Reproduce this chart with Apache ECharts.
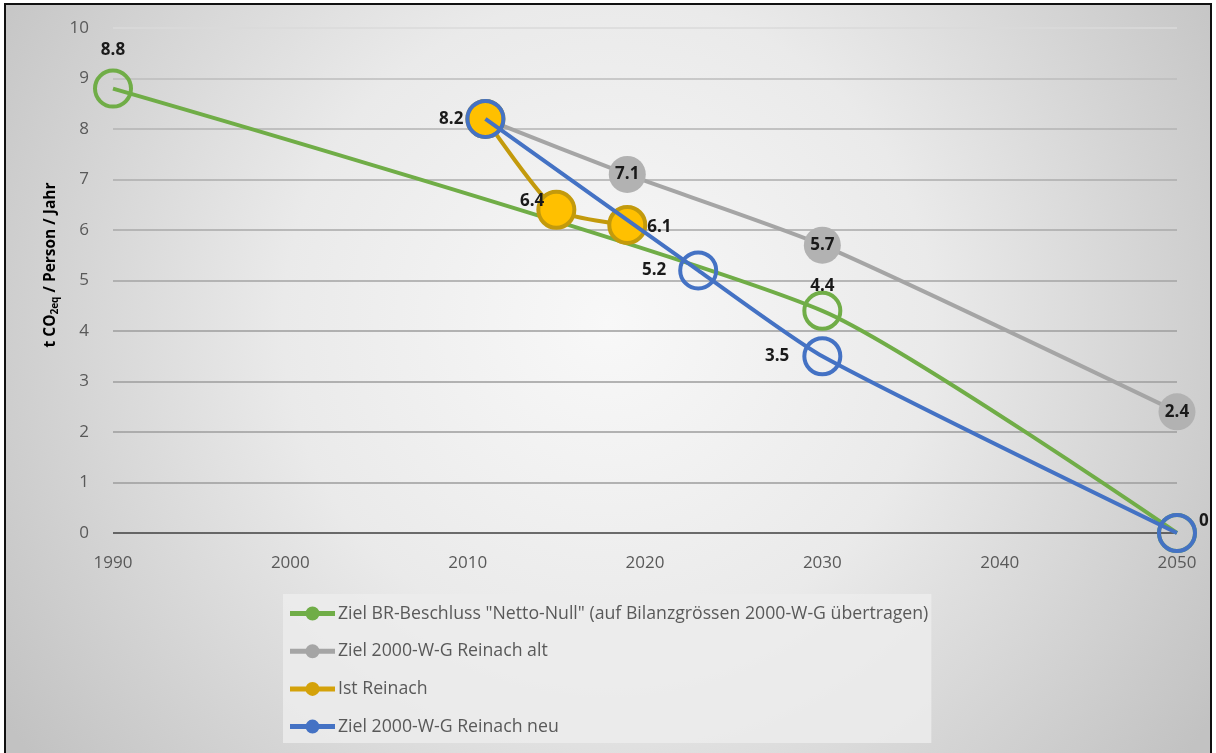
<!DOCTYPE html>
<html><head><meta charset="utf-8">
<script src="https://cdn.jsdelivr.net/npm/echarts@6/dist/echarts.min.js"></script>
<style>html,body{margin:0;padding:0;background:#fff;}#c{width:1216px;height:753px;}</style>
</head><body><div id="c"></div>
<script>
// ---- data ----
const seriesNames = ['Ziel BR-Beschluss "Netto-Null" (auf Bilanzgrössen 2000-W-G übertragen)', 'Ziel 2000-W-G Reinach alt', 'Ist Reinach', 'Ziel 2000-W-G Reinach neu'];
const greenYears = [1990, 2030, 2050];
const greenValues = [8.8, 4.4, 0];
const greyYears = [2011, 2019, 2030, 2050];
const greyValues = [8.2, 7.1, 5.7, 2.4];
const orangeYears = [2011, 2015, 2019];
const orangeValues = [8.2, 6.4, 6.1];
const blueYears = [2011, 2023, 2030, 2050];
const blueValues = [8.2, 5.2, 3.5, 0];
const xTicks = [1990, 2000, 2010, 2020, 2030, 2040, 2050];
const yTicks = [0, 1, 2, 3, 4, 5, 6, 7, 8, 9, 10];

const GREEN = '#70ad47', GREY = '#a5a5a5', GOLD = '#ffc000', GOLDLINE = '#c39a0c', BLUE = '#4472c4';
const labelFont = {fontFamily: 'Open Sans', fontWeight: 'bold', fontSize: 17, color: '#1a1a1a'};
const LEG_ICON = 'path://M0,4.5H12V9.5H0Z M33,4.5H45V9.5H33Z M15.5,7A7,7 0 1 1 29.5,7A7,7 0 1 1 15.5,7Z M12,4.5H16V9.5H12Z M29,4.5H33V9.5H29Z';

function pts(xs, ys) { return xs.map((x, i) => [x, ys[i]]); }
function withLabels(data, labels) {
  return data.map((d, i) => labels[i] ? {value: d, label: Object.assign({show: true}, labelFont, labels[i])} : {value: d});
}

const chart = echarts.init(document.getElementById('c'), null, {renderer: 'canvas'});
const option = {
  backgroundColor: '#ffffff',
  animation: false,
  graphic: [
    {type: 'rect', z: -100, silent: true, shape: {x: 5, y: 4, width: 1206, height: 760},
     style: {fill: new echarts.graphic.RadialGradient(0.5, 0.42, 0.95, [
       {offset: 0, color: '#f8f8f8'}, {offset: 0.45, color: '#eaeaea'}, {offset: 1, color: '#c2c2c2'}]), stroke: null}},
    {type: 'rect', z: 100, silent: true, shape: {x: 5, y: 4, width: 1206, height: 760},
     style: {fill: null, stroke: '#111', lineWidth: 2}},
    {type: 'text', z: 100, silent: true, x: 51, y: 265, rotation: Math.PI / 2,
     style: {text: '{n|t CO}{s|2eq}{n| / Person / Jahr}', align: 'center', verticalAlign: 'middle',
       rich: {n: {fontFamily: 'Open Sans', fontWeight: 'bold', fontSize: 15.5, color: '#404040', lineHeight: 20},
              s: {fontFamily: 'Open Sans', fontWeight: 'bold', fontSize: 10, color: '#404040', lineHeight: 20, padding: [8, 0, 0, 0]}}}}
  ],
  grid: {left: 113, right: 39, top: 28, bottom: 220},
  xAxis: {
    type: 'value', min: xTicks[0], max: xTicks[xTicks.length - 1], interval: 10,
    axisLine: {show: false}, axisTick: {show: false}, splitLine: {show: false},
    axisLabel: {fontFamily: 'Open Sans', fontSize: 17, color: '#595959', margin: 22, formatter: v => String(v)}
  },
  yAxis: {
    type: 'value', min: yTicks[0], max: yTicks[yTicks.length - 1], interval: 1,
    axisLine: {show: false}, axisTick: {show: false},
    splitLine: {lineStyle: {color: ['#3f3f3f', '#9c9c9c', '#9c9c9c', '#9c9c9c', '#9c9c9c', '#a3a3a3', '#a8a8a8', '#adadad', '#b3b3b3', '#bdbdbd', '#dadada'], width: 1.6}},
    axisLabel: {fontFamily: 'Open Sans', fontSize: 17, color: '#595959', margin: 24}
  },
  legend: {
    orient: 'vertical', left: 283, top: 594, padding: [10, 3, 7, 7],
    backgroundColor: 'rgba(236,236,236,0.85)',
    itemWidth: 45, itemHeight: 14, itemGap: 18.7,
    textStyle: {fontFamily: 'Open Sans', fontSize: 17.7, color: '#595959', lineHeight: 19, padding: [0, 0, 0, -2]},
    data: [
      {name: seriesNames[0], icon: LEG_ICON, itemStyle: {color: GREEN, borderWidth: 0}},
      {name: seriesNames[1], icon: LEG_ICON, itemStyle: {color: GREY, borderWidth: 0}},
      {name: seriesNames[2], icon: LEG_ICON, itemStyle: {color: '#d4a20a', borderWidth: 0}},
      {name: seriesNames[3], icon: LEG_ICON, itemStyle: {color: BLUE, borderWidth: 0}}
    ]
  },
  series: [
    {name: seriesNames[0], type: 'line', smooth: 0.2, z: 2,
     symbol: 'circle', symbolSize: 36,
     lineStyle: {color: GREEN, width: 4},
     itemStyle: {color: 'rgba(255,255,255,0)', borderColor: GREEN, borderWidth: 4},
     data: withLabels(pts(greenYears, greenValues), [
       {position: 'top', distance: 10},
       {position: 'top', distance: -4},
       {position: 'right', distance: 2, offset: [0, -12]}])},
    {name: seriesNames[1], type: 'line', smooth: 0.2, z: 3,
     symbol: 'circle', symbolSize: 37,
     lineStyle: {color: GREY, width: 4},
     itemStyle: {color: '#b2b2b2', borderColor: '#b2b2b2', borderWidth: 0},
     data: withLabels(pts(greyYears, greyValues), [
       null,
       {position: 'inside'},
       {position: 'inside'},
       {position: 'inside'}])},
    {name: seriesNames[2], type: 'line', smooth: 0.2, z: 4,
     symbol: 'circle', symbolSize: 36,
     lineStyle: {color: GOLDLINE, width: 4},
     itemStyle: {color: GOLD, borderColor: GOLDLINE, borderWidth: 4},
     data: withLabels(pts(orangeYears, orangeValues), [
       null,
       {position: 'left', distance: -8, offset: [0, -9]},
       {position: 'right', distance: 0, offset: [0, 2]}])},
    {name: seriesNames[3], type: 'line', smooth: 0.2, z: 5,
     symbol: 'circle', symbolSize: 36,
     lineStyle: {color: BLUE, width: 4},
     itemStyle: {color: 'rgba(255,255,255,0)', borderColor: BLUE, borderWidth: 4},
     data: withLabels(pts(blueYears, blueValues), [
       {position: 'left', distance: 2},
       {position: 'left', distance: 12},
       {position: 'left', distance: 13},
       null])}
  ]
};
chart.setOption(option);
</script></body></html>
